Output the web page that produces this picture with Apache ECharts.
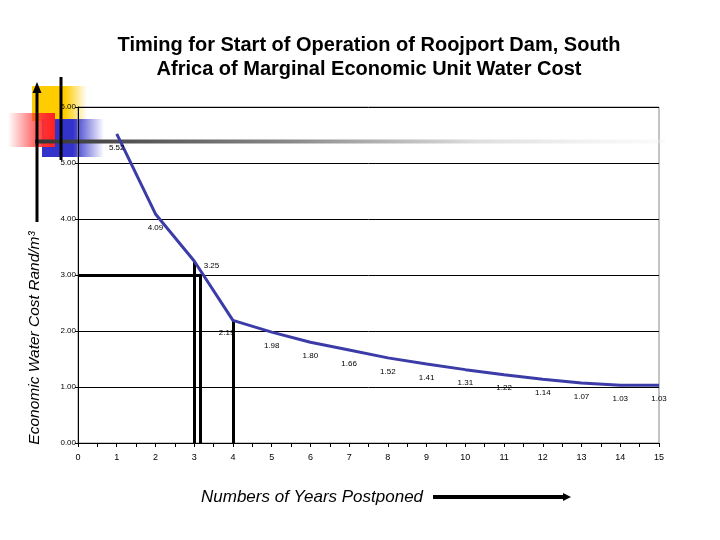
<!DOCTYPE html>
<html><head><meta charset="utf-8">
<script src="https://cdn.jsdelivr.net/npm/echarts@6/dist/echarts.min.js"></script>
<style>html,body{margin:0;padding:0;background:#fff}#c{width:720px;height:540px}</style>
</head><body><div id="c"></div>
<script>
const years = [1,2,3,4,5,6,7,8,9,10,11,12,13,14,15];
const costs = [5.52,4.09,3.25,2.19,1.98,1.80,1.66,1.52,1.41,1.31,1.22,1.14,1.07,1.03,1.03];
const xTicks = [0,1,2,3,4,5,6,7,8,9,10,11,12,13,14,15];
const yTicks = [0,1,2,3,4,5,6];
const refVertical = [[3.0,3.23],[3.16,3.02],[4.0,2.19]];
const refHorizontal = [[0,3.16,3.0]];

const F = 'Liberation Sans, Arial, sans-serif';
const chart = echarts.init(document.getElementById('c'));
const labelOverride = {
  2: {position:[10,5], align:'left', verticalAlign:'middle'},
  3: {position:[2,13], align:'right', verticalAlign:'middle'}
};
const lineData = years.map((x,i)=>{
  const d = {value:[x,costs[i]]};
  if (labelOverride[i]) d.label = labelOverride[i];
  return d;
});
const markLines = [];
refVertical.forEach(r=>markLines.push([{coord:[r[0],0]},{coord:[r[0],r[1]]}]));
refHorizontal.forEach(r=>markLines.push([{coord:[r[0],r[2]]},{coord:[r[1],r[2]]}]));

chart.setOption({
  animation:false,
  backgroundColor:'#fff',
  title:{
    text:'Timing for Start of Operation of Roojport Dam, South\nAfrica of Marginal Economic Unit Water Cost',
    left:364, top:28, textAlign:'center',
    textStyle:{fontFamily:F, fontSize:20, fontWeight:'bold', color:'#000', lineHeight:24}
  },
  grid:{left:78, right:61, top:107, bottom:97, show:true, borderColor:'#888', borderWidth:1, backgroundColor:'transparent'},
  xAxis:{
    type:'value', min:xTicks[0], max:xTicks[xTicks.length-1], interval:1,
    axisLine:{show:true, onZero:false, lineStyle:{color:'#000', width:1}},
    axisTick:{show:true, length:4, lineStyle:{color:'#000'}},
    minorTick:{show:true, splitNumber:2, length:4, lineStyle:{color:'#000'}},
    axisLabel:{fontFamily:F, fontSize:9, color:'#000', margin:10},
    splitLine:{show:false}
  },
  yAxis:{
    type:'value', min:yTicks[0], max:yTicks[yTicks.length-1], interval:1,
    axisLine:{show:true, lineStyle:{color:'#000', width:1}},
    axisTick:{show:true, length:3, lineStyle:{color:'#000'}},
    axisLabel:{fontFamily:F, fontSize:8, color:'#000', margin:2, formatter:v=>v.toFixed(2)},
    splitLine:{show:true, lineStyle:{color:'#000', width:1}}
  },
  series:[{
    type:'line',
    data:lineData,
    symbol:'circle',
    symbolSize:1,
    showSymbol:true,
    itemStyle:{color:'rgba(0,0,0,0)'},
    lineStyle:{color:'#3c3ca8', width:3},
    label:{show:true, position:'bottom', distance:9, fontFamily:F, fontSize:8, color:'#000',
      formatter:p=>p.value[1].toFixed(2)},
    labelLayout:{hideOverlap:false},
    markLine:{
      silent:true, symbol:'none', animation:false,
      label:{show:false},
      lineStyle:{color:'#000', width:3, type:'solid'},
      data:markLines
    },
    z:5
  }],
  graphic:[
    {type:'rect', shape:{x:32,y:86,width:55,height:35}, z:-1,
      style:{fill:new echarts.graphic.LinearGradient(0,0,1,0,[{offset:0,color:'#ffcc00'},{offset:0.6,color:'#ffcc00'},{offset:1,color:'rgba(255,204,0,0)'}])}},
    {type:'rect', shape:{x:42,y:119,width:62,height:38}, z:-1,
      style:{fill:new echarts.graphic.LinearGradient(0,0,1,0,[{offset:0,color:'#3333cc'},{offset:0.5,color:'#3333cc'},{offset:1,color:'rgba(51,51,204,0)'}])}},
    {type:'rect', shape:{x:8,y:113,width:47,height:34}, z:-1,
      style:{fill:new echarts.graphic.LinearGradient(0,0,1,0,[{offset:0,color:'rgba(255,40,40,0)'},{offset:0.8,color:'#ff3030'},{offset:1,color:'#ff2020'}])}},
    {type:'rect', shape:{x:35,y:139.5,width:630,height:4}, z:0,
      style:{fill:new echarts.graphic.LinearGradient(0,0,1,0,[{offset:0,color:'#333'},{offset:0.4,color:'#888'},{offset:0.7,color:'#ddd'},{offset:1,color:'rgba(240,240,240,0.3)'}])}},
    {type:'line', shape:{x1:61,y1:77,x2:61,y2:160}, style:{stroke:'#000', lineWidth:3}},
    {type:'line', shape:{x1:37,y1:222,x2:37,y2:92}, style:{stroke:'#000', lineWidth:3}},
    {type:'polygon', shape:{points:[[37,82],[32.5,93],[41.5,93]]}, style:{fill:'#000'}},
    {type:'text', x:35, y:338, rotation:Math.PI/2,
      style:{text:'Economic Water Cost Rand/m³', fontFamily:F, fontSize:15.5, fontStyle:'italic', fill:'#000', align:'center', verticalAlign:'middle'}},
    {type:'text', x:201, y:497,
      style:{text:'Numbers of Years Postponed', fontFamily:F, fontSize:17, fontStyle:'italic', fill:'#000', align:'left', verticalAlign:'middle'}},
    {type:'line', shape:{x1:433,y1:497,x2:565,y2:497}, style:{stroke:'#000', lineWidth:4}},
    {type:'polygon', shape:{points:[[571,497],[563,493],[563,501]]}, style:{fill:'#000'}}
  ]
});
</script></body></html>
